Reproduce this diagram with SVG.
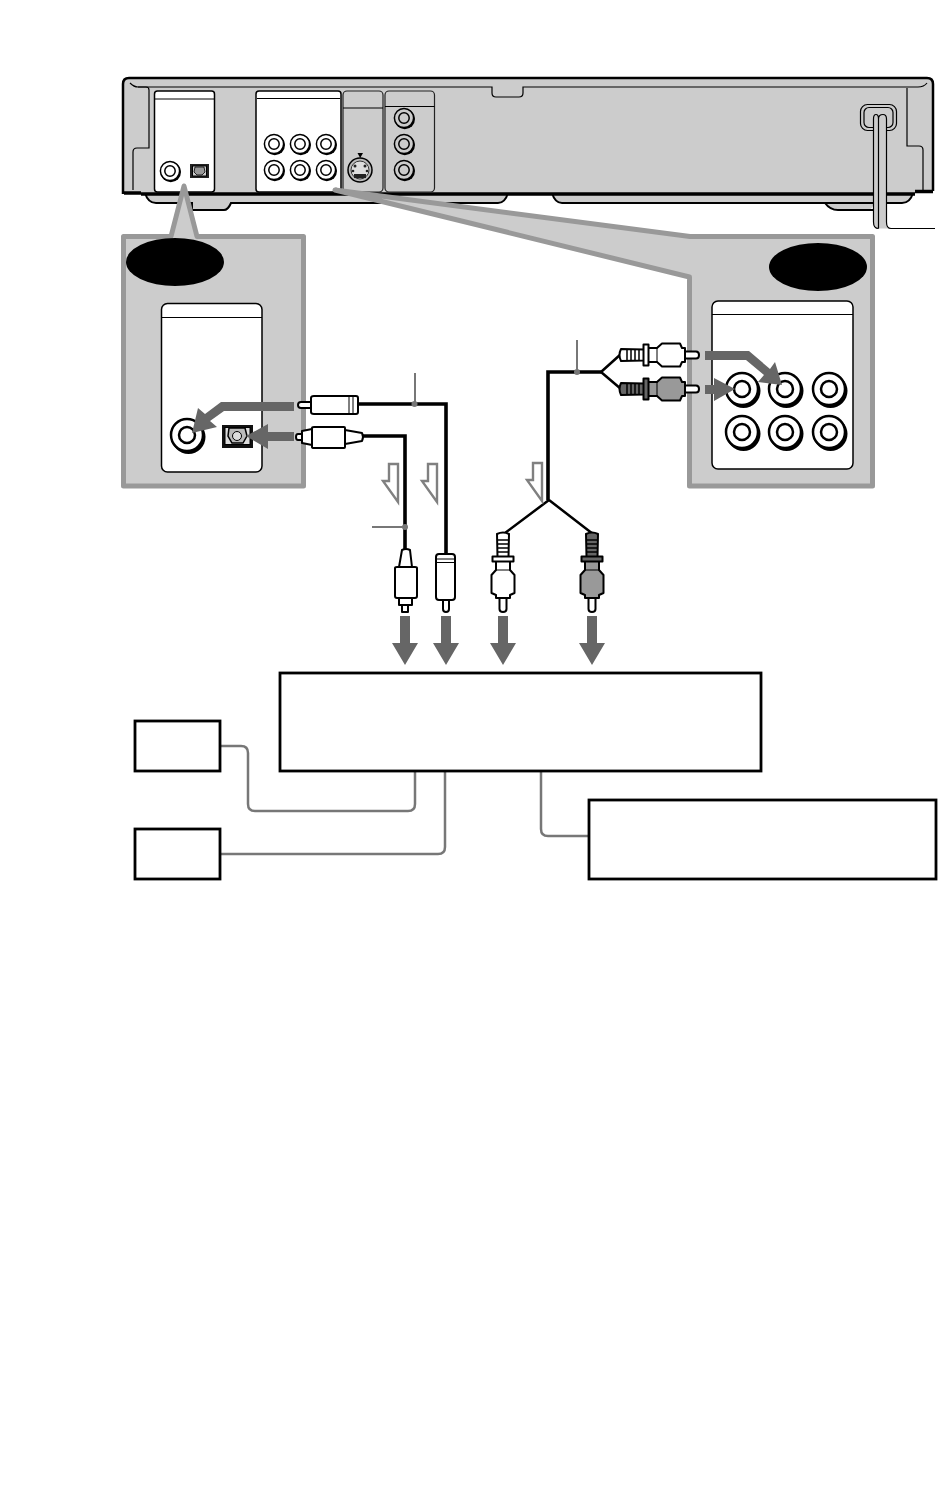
<svg xmlns="http://www.w3.org/2000/svg" xmlns:xlink="http://www.w3.org/1999/xlink" width="950" height="1489" viewBox="0 0 950 1489">
<style>
.k{fill:none;stroke:#000}
.pan{fill:#fff;stroke:#000;stroke-width:1.5}
.gpan{fill:#ccc;stroke:#222;stroke-width:1.2}
.call{fill:#ccc;stroke:#999;stroke-width:5;stroke-linejoin:round}
.ga{fill:#666;stroke:none}
.hol{fill:#fff;stroke:#808080;stroke-width:2.400}
.cable{fill:none;stroke:#000;stroke-width:3.600;stroke-linejoin:miter}
.thin{fill:none;stroke:#000;stroke-width:2.500}
.lead{fill:none;stroke:#777;stroke-width:2}
.conn{fill:none;stroke:#777;stroke-width:2.500}
.box{fill:#fff;stroke:#000;stroke-width:2.800}
.pl{fill:#fff;stroke:#000;stroke-width:2;stroke-linejoin:round}
.pd{fill:#999;stroke:#000;stroke-width:2;stroke-linejoin:round}
.pk{fill:#666;stroke:#000;stroke-width:2;stroke-linejoin:round}
</style>
<defs>
<g id="jack-s">
<circle cx="0.8" cy="1" r="10.200" fill="#000"/><circle r="9.600" fill="#fff" stroke="#000" stroke-width="1.500"/><circle r="5.200" fill="#fff" stroke="#000" stroke-width="1.500"/>
</g>
<g id="jack-g">
<circle cx="0.8" cy="1" r="10.200" fill="#000"/><circle r="9.600" fill="#ccc" stroke="#000" stroke-width="1.500"/><circle r="5.200" fill="#ccc" stroke="#000" stroke-width="1.500"/>
</g>
<g id="jack-l">
<circle cx="1.500" cy="2" r="17" fill="#000"/><circle r="16" fill="#fff" stroke="#000" stroke-width="2.500"/><circle r="8" fill="#fff" stroke="#000" stroke-width="2.500"/>
</g>
<path id="down" d="M-5 0H5V27H13L0 49L-13 27H-5Z"/>
<path id="hollow" d="M0 0H9V38L-6 17H0Z"/>
<g id="rca-w">
<path class="pl" d="M-6 1Q0 -2 6 1L5.500 24H-5.500Z"/>
<path class="k" stroke-width="1.500" d="M-5.500 7H5.500M-5.500 11H5.500M-5.500 15H5.500M-5.500 19H5.500"/>
<path class="pl" d="M-3.500 64H3.500V76Q3.500 79 0 79Q-3.500 79 -3.500 76Z"/>
<path class="pl" d="M-7 28H7V37L11.500 42V60L7 62V65H-7V62L-11.500 60V42L-7 37Z"/>
<path class="pl" d="M-10.500 23.500H10.500V28.500H-10.500Z"/>
<path class="k" stroke-width="1" d="M-7 37H7"/>
</g>
<g id="rca-d">
<path class="pk" d="M-6 1Q0 -2 6 1L5.500 24H-5.500Z"/>
<path class="k" stroke-width="1.500" d="M-5.500 7H5.500M-5.500 11H5.500M-5.500 15H5.500M-5.500 19H5.500"/>
<path class="pl" d="M-3.500 64H3.500V76Q3.500 79 0 79Q-3.500 79 -3.500 76Z"/>
<path class="pd" d="M-7 28H7V37L11.500 42V60L7 62V65H-7V62L-11.500 60V42L-7 37Z"/>
<path class="pk" d="M-10.500 23.500H10.500V28.500H-10.500Z"/>
<path class="k" stroke-width="1" d="M-7 37H7"/>
</g>
</defs>

<g id="player">
<path d="M145 193Q148 203 156 203H192V210H224Q228 210 231 203H498Q505 203 508 193Z" fill="#ccc"/>
<path class="k" stroke-width="2" d="M145 193Q148 203 156 203H192V210H224Q228 210 231 203H498Q505 203 508 193"/>
<path d="M552 193Q555 203 562 203H825Q830 210 838 210H868Q872 210 874 203H902Q910 203 913 193Z" fill="#ccc"/>
<path class="k" stroke-width="2" d="M552 193Q555 203 562 203H902Q910 203 913 193M825 203Q830 210 838 210H874"/>
<path d="M123 194V84Q123 78 129 78H927Q933 78 933 84V192H915V194Z" fill="#ccc"/>
<path class="k" stroke-width="2.500" d="M123 194V84Q123 78 129 78H927Q933 78 933 84V191"/>
<path class="k" stroke-width="3.500" d="M124 193H141M141 194H915M915 191.500H933"/>
<path class="k" stroke-width="1.200" d="M130 83Q134 87 138 87H492V93Q492 97 496 97H519Q523 97 523 93V87H918Q924 87 927 83"/>
<path class="k" stroke-width="1.200" d="M138 87H146Q149 87 149 90V148H137Q133 148 133 152V190"/>
<path class="k" stroke-width="1.200" d="M907 88V146H919Q923 146 923 150V190"/>
<g id="panel-digital"><rect class="pan" x="154.500" y="91" width="60" height="101" rx="3"/><path class="k" d="M155 99H214"/>
<use xlink:href="#jack-s" x="170" y="171"/>
<rect x="190" y="164" width="19" height="14" fill="#222"/><rect x="192.500" y="166" width="14" height="10" fill="#ccc" stroke="#000"/><path d="M195 167H204L205 172L202 175H197L194 172Z" fill="#999" stroke="#000" stroke-width=".8"/>
</g>
<g id="panel-audio"><rect class="pan" x="256" y="91" width="85" height="101" rx="3"/><path class="k" d="M257 98.500H340"/>
<use xlink:href="#jack-s" x="274" y="144"/><use xlink:href="#jack-s" x="300" y="144"/><use xlink:href="#jack-s" x="326" y="144"/>
<use xlink:href="#jack-s" x="274" y="170"/><use xlink:href="#jack-s" x="300" y="170"/><use xlink:href="#jack-s" x="326" y="170"/>
</g>
<g id="panel-svideo"><rect class="gpan" x="343" y="91" width="40" height="101" rx="4"/><path class="k" d="M343 108H383" stroke-width="1.200"/>
<path d="M357.500 153H363L360.200 158Z" fill="#000"/>
<circle cx="360" cy="170" r="12" fill="#bbb" stroke="#000" stroke-width="1.500"/><circle cx="360" cy="170" r="9" fill="#ddd" stroke="#333"/>
<path d="M354 174H366V178H354Z" fill="#222"/><circle cx="355" cy="166" r="1.500" fill="#222"/><circle cx="365" cy="166" r="1.500" fill="#222"/><circle cx="353" cy="171" r="1.300" fill="#222"/><circle cx="367" cy="171" r="1.300" fill="#222"/>
</g>
<g id="panel-video"><rect class="gpan" x="385" y="91" width="49.500" height="101" rx="4"/><path class="k" d="M385 106.500H434.500" stroke-width="1.200"/>
<use xlink:href="#jack-g" x="404" y="118"/><use xlink:href="#jack-g" x="404" y="144"/><use xlink:href="#jack-g" x="404" y="170"/>
</g>
<g id="power-cord">
<rect x="860.500" y="104.500" width="36" height="26" rx="7" fill="#ccc" stroke="#000" stroke-width="1.200"/>
<rect x="864" y="107.500" width="29" height="20" rx="5" fill="#ccc" stroke="#000" stroke-width="1.200"/>
<path d="M873.500 119Q873.500 114.500 876 114.500Q878 114.500 879 116Q880 114.500 883 114.500Q886.500 114.500 886.500 119V222Q886.500 228.500 890 228.500H878Q873.500 228.500 873.500 222Z" fill="#ccc"/>
<path class="k" stroke-width="1.200" d="M873.500 222V119Q873.500 114.500 876 114.500Q878.500 114.500 878.500 119V228.500M878.500 119Q878.500 114.500 883 114.500Q886.500 114.500 886.500 119V222Q886.500 228.500 891 228.500H935M873.500 222Q873.500 228.500 878.500 228.500"/>
</g>
</g>

<g id="callout-left">
<path class="call" d="M184 186L171 236.500H123.500V486H303.500V236.500H197Z"/>
<ellipse cx="175" cy="262" rx="49" ry="24" fill="#000"/>
<rect class="pan" x="161.500" y="303.500" width="100.500" height="168.500" rx="6"/>
<path class="k" d="M162 317.500H262"/>
<use xlink:href="#jack-l" x="187" y="435"/>
<rect x="222" y="425" width="31" height="23" fill="#111"/>
<rect x="225" y="427.500" width="25" height="17" fill="#ddd" stroke="#000"/>
<path d="M229 428H245L247 436L243 443H232L228 436Z" fill="#bbb" stroke="#000" stroke-width="1.500"/>
<circle cx="237" cy="436" r="4.500" fill="#ddd" stroke="#000"/>
</g>

<g id="callout-right">
<path class="call" d="M335 190L690 236.500H872.500V486H689.500V277Z"/>
<ellipse cx="818" cy="267" rx="49" ry="24" fill="#000"/>
<rect class="pan" x="712" y="301" width="141" height="168" rx="6"/>
<path class="k" d="M712 314.500H853"/>
<use xlink:href="#jack-l" x="742" y="389"/><use xlink:href="#jack-l" x="785" y="389"/><use xlink:href="#jack-l" x="829" y="389"/>
<use xlink:href="#jack-l" x="742" y="432"/><use xlink:href="#jack-l" x="785" y="432"/><use xlink:href="#jack-l" x="829" y="432"/>
</g>

<g id="connectors">
<path class="conn" d="M220 746H241Q248 746 248 753V804Q248 811 255 811H408Q415 811 415 804V771"/>
<path class="conn" d="M221 854H438Q445 854 445 847V771"/>
<path class="conn" d="M541 771V829Q541 836 548 836H589"/>
<path class="cable" d="M358 404H446V556"/>
<path class="cable" d="M363 436H405V550"/>
<path class="cable" d="M548 500V372H601"/>
<path class="thin" d="M601 372L621 354M601 372L621 389M549 500L505 533M549 500L593 534"/>
<path class="lead" d="M415 373V404M372 527H405M577 340V372"/>
<circle cx="414.500" cy="404" r="3" fill="#777"/><circle cx="405" cy="527" r="3" fill="#777"/><circle cx="577" cy="372" r="3" fill="#777"/>
</g>

<g id="plugs">
<g id="coax-h">
<path class="pl" d="M311 402H301Q298 402 298 405Q298 408 301 408H311Z"/>
<path class="pl" d="M311 398Q311 396 314 396H356Q358 396 358 398V412Q358 414 356 414H314Q311 414 311 412Z"/>
<path class="k" stroke-width="1" d="M349 396V414M353 396V414"/>
</g>
<g id="optical-h">
<path class="pl" d="M303 434H298Q296 434 296 437Q296 440 298 440H303Z"/>
<path class="pl" d="M302 431L312 429V445L302 443Z"/>
<path class="pl" d="M312 428Q312 427 314 427H344Q345 427 345 428V447Q345 448 344 448H314Q312 448 312 447Z"/>
<path class="pl" d="M345 430L362 433Q364 437 362 441L345 444Z"/>
</g>
<use xlink:href="#rca-w" transform="translate(620 355) rotate(-90)"/>
<use xlink:href="#rca-d" transform="translate(620 389) rotate(-90)"/>
<g id="optical-v">
<path class="pl" d="M402 550Q406 548 410 550L412 567H399Z"/>
<path class="pl" d="M395 568Q395 567 397 567H415Q417 567 417 568V596Q417 598 415 598H397Q395 598 395 596Z"/>
<path class="pl" d="M399 598H412V605H399Z"/>
<path class="pl" d="M402 605H408V612H402Z"/>
</g>
<g id="coax-v">
<path class="pl" d="M443 600H449V609Q449 612 446 612Q443 612 443 609Z"/>
<path class="pl" d="M436 557Q436 554 439 554H452Q455 554 455 557V597Q455 600 452 600H439Q436 600 436 597Z"/>
<path class="k" stroke-width="1" d="M436 559H455M436 562.500H455"/>
</g>
<use xlink:href="#rca-w" x="503" y="533"/>
<use xlink:href="#rca-d" x="592" y="533"/>
</g>

<g id="arrows">
<path class="ga" d="M294 402V411H224L210 421L217 427L192 433L198 408L205 414L221 402Z"/>
<path class="ga" d="M294 432V441H268V449L246 436L268 424V432Z"/>
<path class="ga" d="M705 351H749L770 369L775 362L782 385L758 382L764 375L746 360H705Z"/>
<path class="ga" d="M705 385H714V378L735 389L714 401V394H705Z"/>
<use xlink:href="#down" class="ga" x="405" y="616"/>
<use xlink:href="#down" class="ga" x="446" y="616"/>
<use xlink:href="#down" class="ga" x="503" y="616"/>
<use xlink:href="#down" class="ga" x="592" y="616"/>
<use xlink:href="#hollow" class="hol" x="389" y="464"/>
<use xlink:href="#hollow" class="hol" x="428" y="464"/>
<use xlink:href="#hollow" class="hol" x="533" y="463"/>
</g>

<g id="box-main"><rect class="box" x="280" y="673" width="481" height="98"/></g>
<g id="box-left-top"><rect class="box" x="135" y="721" width="85" height="50"/></g>
<g id="box-left-bottom"><rect class="box" x="135" y="829" width="85" height="50"/></g>
<g id="box-right"><rect class="box" x="589" y="800" width="347" height="79"/></g>
</svg>
